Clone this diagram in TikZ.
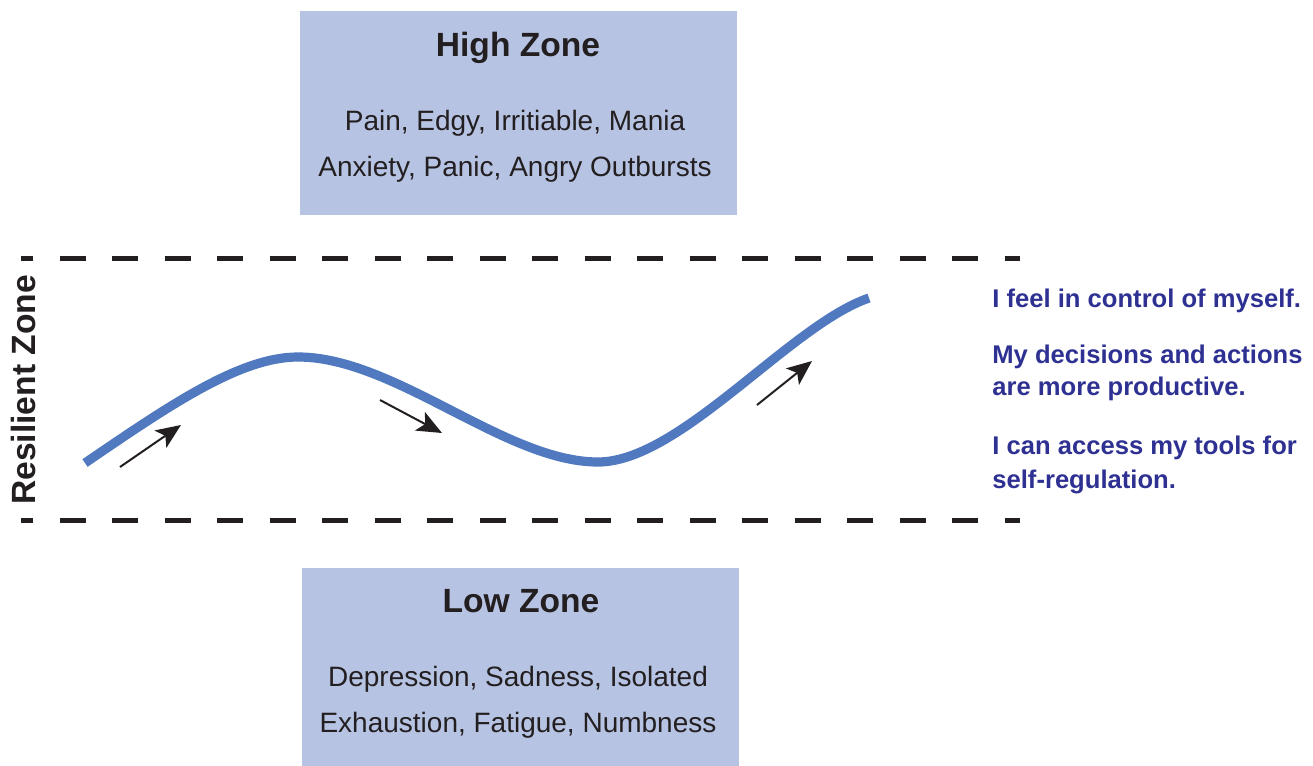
\documentclass[tikz,border=0pt]{standalone}
\usepackage{fontspec}
\setmainfont{Liberation Sans}
\usepackage{xcolor}
\usetikzlibrary{arrows.meta}

\definecolor{zonefill}{HTML}{B7C3E3}
\definecolor{waveblue}{HTML}{5179BF}
\definecolor{feelblue}{HTML}{2E3192}
\definecolor{ink}{HTML}{231F20}

\tikzset{
  zonebox/.style={fill=zonefill, inner sep=0pt, minimum width=218.5pt},
  zonetitle/.style={anchor=base, text=ink, inner sep=0pt, font=\fontsize{16.8}{20}\selectfont\bfseries},
  zonetext/.style={anchor=base, text=ink, inner sep=0pt, font=\fontsize{14}{23}\selectfont},
  feeltext/.style={anchor=base west, text=feelblue, inner sep=0pt, font=\fontsize{12.8}{16}\selectfont\bfseries},
  zoneline/.style={ink, line width=2.5pt, dash pattern=on 13pt off 13.25pt, dash phase=7pt},
  wave/.style={waveblue, line width=4.6pt},
  flowarrow/.style={ink, line width=1pt, -{Stealth[length=12.5pt,width=10.5pt,inset=3pt]}}
}

\begin{document}
\begin{tikzpicture}[x=0.5pt, y=-0.5pt]
\useasboundingbox (0,0) rectangle (1313,766);

% zone boxes
\node[zonebox, minimum height=102pt] (high) at (518.5,113) {};
\node[zonebox, minimum height=99pt] (low) at (520.5,667) {};

\node[zonetitle] (hightitle) at (518,56) {High Zone};
\node[zonetext] (highA) at (515,130) {Pain, Edgy, Irritiable, Mania};
\node[zonetext] (highB) at (515,176) {Anxiety, Panic, Angry Outbursts};

\node[zonetitle] (lowtitle) at (521,612) {Low Zone};
\node[zonetext] (lowA) at (518,686) {Depression, Sadness, Isolated};
\node[zonetext] (lowB) at (518,732) {Exhaustion, Fatigue, Numbness};

% resilient zone
\coordinate (TL) at (21,258);
\coordinate (TR) at (1020,258);
\coordinate (BL) at (21,520);
\coordinate (BR) at (1020,520);
\draw[zoneline] (TL) -- (TR);
\draw[zoneline] (BL) -- (BR);
\node[rotate=90, anchor=base, text=ink, inner sep=0pt,
      font=\fontsize{16.8}{20}\selectfont\bfseries] (resilient) at (35,390) {Resilient Zone};

% the wave
\coordinate (w0) at (85,463);
\coordinate (w1) at (298,357);
\coordinate (w2) at (598,462);
\coordinate (w3) at (869,298);
\draw[wave] (w0) .. controls (170,405) and (240,357) .. (w1)
  .. controls (395,357) and (505,462) .. (w2)
  .. controls (680,462) and (790,325) .. (w3);

% arrows along the wave
\coordinate (a1s) at (120,467); \coordinate (a1e) at (181,425);
\coordinate (a2s) at (380,400); \coordinate (a2e) at (442,433);
\coordinate (a3s) at (757,405); \coordinate (a3e) at (812,361);
\draw[flowarrow] (a1s) -- (a1e);
\draw[flowarrow] (a2s) -- (a2e);
\draw[flowarrow] (a3s) -- (a3e);

% feelings
\node[feeltext] (f1) at (992,307) {I feel in control of myself.};
\node[feeltext] (f2) at (992,363) {My decisions and actions};
\node[feeltext] (f3) at (992,395) {are more productive.};
\node[feeltext] (f4) at (992,454) {I can access my tools for};
\node[feeltext] (f5) at (992,488) {self-regulation.};
\end{tikzpicture}
\end{document}
